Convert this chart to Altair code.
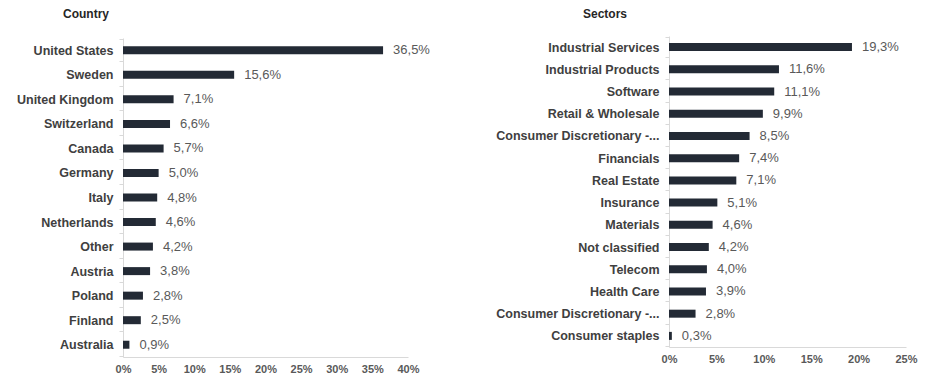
import altair as alt
import pandas as pd

countries = ["United States", "Sweden", "United Kingdom", "Switzerland", "Canada",
             "Germany", "Italy", "Netherlands", "Other", "Austria", "Poland",
             "Finland", "Australia"]
country_vals = [36.5, 15.6, 7.1, 6.6, 5.7, 5.0, 4.8, 4.6, 4.2, 3.8, 2.8, 2.5, 0.9]

sectors = ["Industrial Services", "Industrial Products", "Software", "Retail & Wholesale",
           "Consumer Discretionary - Services", "Financials", "Real Estate", "Insurance",
           "Materials", "Not classified", "Telecom", "Health Care",
           "Consumer Discretionary - Durables", "Consumer staples"]
sector_vals = [19.3, 11.6, 11.1, 9.9, 8.5, 7.4, 7.1, 5.1, 4.6, 4.2, 4.0, 3.9, 2.8, 0.3]

BAR = "#232a35"
LBL = "#404040"
VAL = "#595959"
GRID = "#d9d9d9"
FONT = "Liberation Sans"


def fmt(v):
    return f"{v:.1f}".replace(".", ",") + "%"


def panel(names, vals, title, xmax, width, height, title_dx, extent, yrange):
    df = pd.DataFrame({"name": names, "value": vals, "label": [fmt(v) for v in vals]})
    y = alt.Y("name:N", sort=None, title=None,
              scale=alt.Scale(range=yrange),
              axis=alt.Axis(labelFont=FONT, labelFontSize=12.5, labelFontWeight="bold",
                            labelColor=LBL, labelPadding=6, tickBand="extent",
                            tickSize=4, tickColor=GRID, domainColor=GRID,
                            labelLimit=300, minExtent=extent, maxExtent=extent,
                            labelExpr="length(datum.label) > 24 ? substring(datum.label, 0, 24) + '...' : datum.label"))
    x = alt.X("value:Q", title=None,
              scale=alt.Scale(domain=[0, xmax], nice=False),
              axis=alt.Axis(values=list(range(0, xmax + 1, 5)), labelExpr="datum.value + '%'",
                            labelFont=FONT, labelFontSize=11, labelFontWeight="bold",
                            labelColor=VAL, grid=False, ticks=False, domainColor=GRID,
                            labelPadding=6, labelFlush=False))
    base = alt.Chart(df)
    bars = base.mark_bar(color=BAR, size=8).encode(x=x, y=y)
    text = base.mark_text(align="left", baseline="middle", dx=10, font=FONT,
                          fontSize=13, color=VAL).encode(x=x, y=y, text="label:N")
    return (bars + text).properties(
        width=width, height=height,
        title=alt.Title(title, anchor="start", frame="group", dx=title_dx, font=FONT,
                        fontSize=12, fontWeight="bold", color="#262626", offset=9))


left = panel(countries, country_vals, "Country", 40, 285, 321, -60, 110, [2, 321])
right = panel(sectors, sector_vals, "Sectors", 25, 237, 311, -86, 170, [0, 311])

chart = alt.hconcat(left, right, spacing=261, bounds="flush").configure_view(
    stroke=None).properties(padding={"left": 5, "top": 0, "right": 0, "bottom": 0})

chart.save("out.html", embed_options={"renderer": "svg", "actions": False})
